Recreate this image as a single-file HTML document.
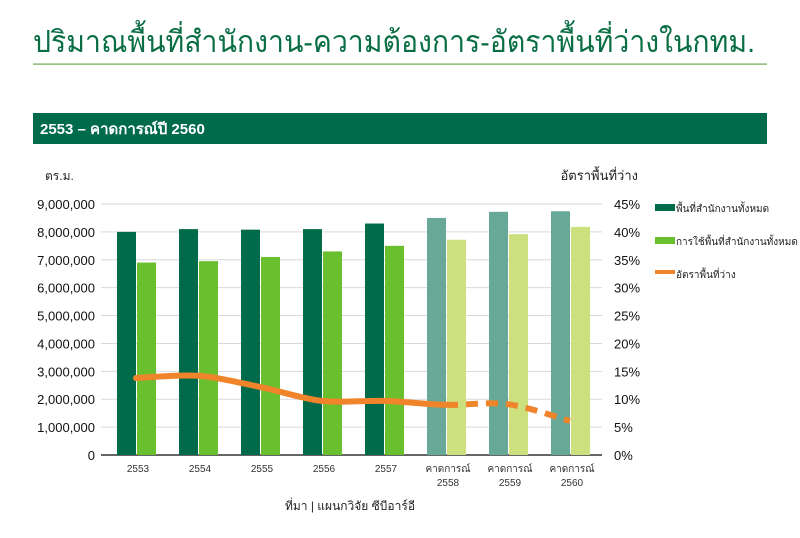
<!DOCTYPE html>
<html><head><meta charset="utf-8"><style>
body{margin:0;width:800px;height:533px;background:#fff;overflow:hidden;font-family:"Liberation Sans","Noto Sans CJK SC",sans-serif;}
svg text{font-family:"Liberation Sans","Noto Sans CJK SC",sans-serif;}
</style></head><body>
<svg width="800" height="533">
<text x="33" y="52" font-size="30" fill="#0a6e45" textLength="722" lengthAdjust="spacingAndGlyphs">ปริมาณพื้นที่สำนักงาน-ความต้องการ-อัตราพื้นที่ว่างในกทม.</text>
<rect x="33" y="63.5" width="734" height="1.2" fill="#6aa84f"/>
<rect x="33" y="113" width="734" height="31" fill="#006b4a"/>
<text x="40" y="134" font-size="15" font-weight="bold" fill="#fff">2553 – คาดการณ์ปี 2560</text>
<text x="45" y="180" font-size="12" fill="#222">ตร.ม.</text>
<text x="638" y="180" font-size="13" fill="#222" text-anchor="end">อัตราพื้นที่ว่าง</text>
<g id="grid"></g><g id="bars"></g><g id="line"></g><g id="axes"></g>
<g>
<rect x="655" y="204" width="20" height="7" fill="#006b4a"/>
<text x="676" y="212" font-size="10" fill="#222">พื้นที่สำนักงานทั้งหมด</text>
<rect x="655" y="237" width="20" height="7" fill="#6abf2e"/>
<text x="676" y="245" font-size="10" fill="#222">การใช้พื้นที่สำนักงานทั้งหมด</text>
<rect x="655" y="270" width="20" height="4" fill="#f0842a"/>
<text x="676" y="278" font-size="10" fill="#222">อัตราพื้นที่ว่าง</text>
</g>
<text x="350" y="510" font-size="12" fill="#222" text-anchor="middle">ที่มา | แผนกวิจัย ซีบีอาร์อี</text>
</svg>
<script>
const categories=["2553","2554","2555","2556","2557","คาดการณ์|2558","คาดการณ์|2559","คาดการณ์|2560"];
const totalSpace=[8000000,8100000,8080000,8100000,8300000,8500000,8720000,8740000];
const usedSpace=[6900000,6950000,7100000,7300000,7500000,7720000,7920000,8180000];
const vacancy=[13.8,14.2,12.2,9.7,9.7,9.0,9.1,6.1];
const forecastStart=5;
const leftTicks=["0","1,000,000","2,000,000","3,000,000","4,000,000","5,000,000","6,000,000","7,000,000","8,000,000","9,000,000"];
const rightTicks=["0%","5%","10%","15%","20%","25%","30%","35%","40%","45%"];
const NS="http://www.w3.org/2000/svg";
const x0=107,step=62,y0=455,yTop=204;
const yL=v=>y0-(v/9000000)*(y0-yTop);
const yR=v=>y0-(v/45)*(y0-yTop);
const cx=i=>x0+step*i+31;
function mk(tag,attrs,parent){const e=document.createElementNS(NS,tag);for(const k in attrs)e.setAttribute(k,attrs[k]);document.getElementById(parent).appendChild(e);return e;}
leftTicks.forEach((t,i)=>{const y=yL(i*1000000);
const g=mk('line',{x1:x0-6,x2:602,y1:y,y2:y,stroke:i?'#d9d9d9':'#333','stroke-width':i?1:1.5},'grid');

const a=mk('text',{x:95,y:y+5,'font-size':13,'text-anchor':'end',fill:'#111'},'axes');a.textContent=t;

const b=mk('text',{x:614,y:y+5,'font-size':13,fill:'#111'},'axes');b.textContent=rightTicks[i];
});
categories.forEach((c,i)=>{const f=i>=forecastStart;
const r1=mk('rect',{x:cx(i)-21,y:yL(totalSpace[i]),width:19,height:y0-yL(totalSpace[i]),fill:f?'#67a996':'#006b4a'},'bars');

const r2=mk('rect',{x:cx(i)-1,y:yL(usedSpace[i]),width:19,height:y0-yL(usedSpace[i]),fill:f?'#cde07e':'#6abf2e'},'bars');

c.split('|').forEach((p,j)=>{const t=mk('text',{x:cx(i),y:472+j*14,'font-size':10,'text-anchor':'middle',fill:'#333'},'axes');t.textContent=p;
});});
const pts=vacancy.map((v,i)=>[cx(i)-2,yR(v)]);
function seg(a,b){const p0=pts[Math.max(a-1,0)],p1=pts[a],p2=pts[b],p3=pts[Math.min(b+1,pts.length-1)];
return `C${p1[0]+(p2[0]-p0[0])/6},${p1[1]+(p2[1]-p0[1])/6} ${p2[0]-(p3[0]-p1[0])/6},${p2[1]-(p3[1]-p1[1])/6} ${p2[0]},${p2[1]}`;}
let d1=`M${pts[0][0]},${pts[0][1]}`;for(let i=0;i<forecastStart;i++)d1+=seg(i,i+1);
let d2=`M${pts[forecastStart][0]},${pts[forecastStart][1]}`;for(let i=forecastStart;i<pts.length-1;i++)d2+=seg(i,i+1);
const l1=mk('path',{d:d1,fill:'none',stroke:'#f0842a','stroke-width':6,'stroke-linecap':'round'},'line');

const l2=mk('path',{d:d2,fill:'none',stroke:'#f0842a','stroke-width':6,'stroke-dasharray':'12 8'},'line');

</script>
</body></html>
